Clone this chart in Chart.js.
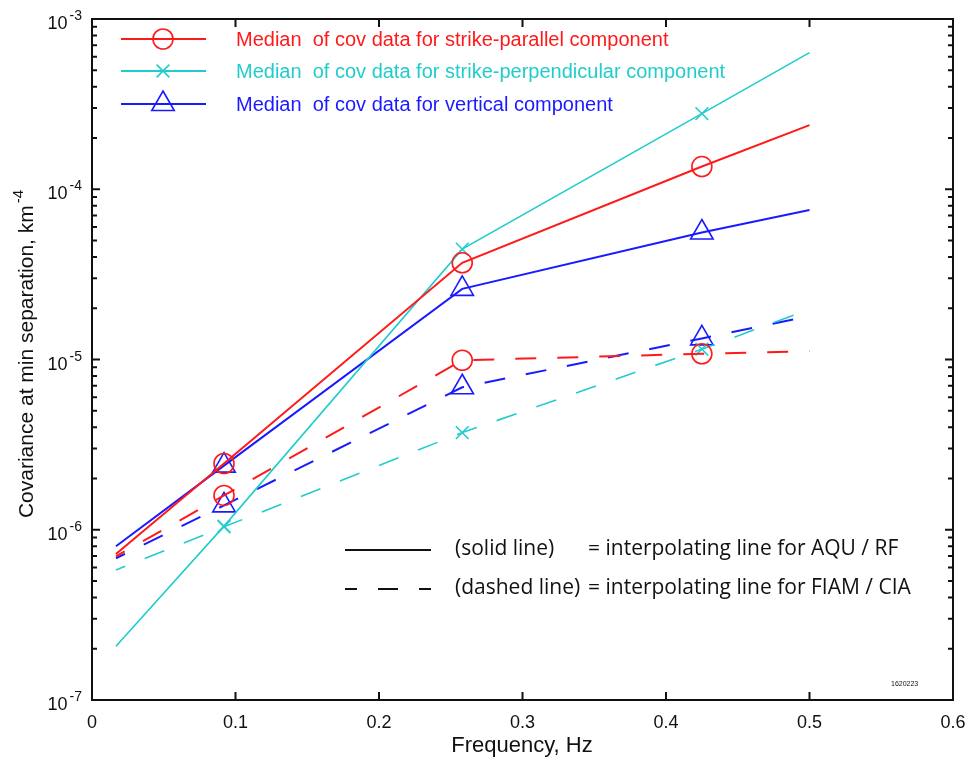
<!DOCTYPE html>
<html>
<head>
<meta charset="utf-8">
<script src="https://cdn.jsdelivr.net/npm/chart.js"></script>
<style>
  html, body { margin: 0; padding: 0; background: #fff; }
</style>
</head>
<body>
<canvas id="myChart" width="968" height="760"></canvas>

<script>
    // Frequencies (Hz): interpolating-line end points and the three measured bands
    const freq = [0.0167, 0.092, 0.258, 0.425, 0.5];

    // Covariance at min separation (km^-4), solid = AQU / RF
    const parallelSolid = [7.2e-7, 2.45e-6, 3.7e-5, 1.36e-4, 2.38e-4];
    const perpSolid     = [2.07e-7, 1.05e-6, 4.45e-5, 2.78e-4, 6.35e-4];
    const verticalSolid = [8.0e-7, 2.38e-6, 2.6e-5, 5.57e-5, 7.56e-5];

    // dashed = FIAM / CIA
    const parallelDashed = [6.98e-7, 1.59e-6, 9.9e-6, 1.08e-5, 1.12e-5];
    const perpDashed     = [5.8e-7, 1.04e-6, 3.72e-6, 1.15e-5, 1.97e-5];
    const verticalDashed = [6.8e-7, 1.39e-6, 6.87e-6, 1.33e-5, 1.80e-5];

    const legendLabels = [
        'Median  of cov data for strike-parallel component',
        'Median  of cov data for strike-perpendicular component',
        'Median  of cov data for vertical component'
    ];
    const xTicks = [0, 0.1, 0.2, 0.3, 0.4, 0.5, 0.6];
    const yDecades = [-7, -6, -5, -4, -3];

    const RED = '#ff1a1a', CYAN = '#22cccc', BLUE = '#1a1aff';
    const FONT = '"Liberation Sans", Arial, sans-serif';

    // markers only on the measured points, not on the line ends
    const markerRadius = r => [0, r, r, r, 0];

    function series(vals, color, style, r, dashed, width) {
        return {
            data: freq.map((f, i) => ({ x: f, y: vals[i] })),
            borderColor: color,
            backgroundColor: 'rgba(0,0,0,0)',
            borderWidth: width,
            borderDash: dashed ? [21, 21] : [],
            borderDashOffset: dashed ? 11 : 0,
            pointStyle: style,
            pointRadius: markerRadius(r),
            pointBorderWidth: 1.6,
            pointBorderColor: color,
            pointBackgroundColor: 'rgba(0,0,0,0)',
            tension: 0
        };
    }

    // "10" with a superscript exponent, the whole label ending at x
    function drawPow(ctx, xRight, y, base, exp, size) {
        ctx.font = size + 'px ' + FONT;
        const wb = ctx.measureText(base).width;
        const es = Math.round(size * 0.75);
        ctx.font = es + 'px ' + FONT;
        const we = ctx.measureText(exp).width;
        const x0 = xRight - wb - we - 2;
        ctx.textAlign = 'left';
        ctx.textBaseline = 'alphabetic';
        ctx.font = size + 'px ' + FONT;
        ctx.fillText(base, x0, y);
        ctx.font = es + 'px ' + FONT;
        ctx.fillText(exp, x0 + wb + 2, y - size * 0.5);
    }

    function drawMarker(ctx, style, x, y, r, color) {
        ctx.strokeStyle = color;
        ctx.fillStyle = 'rgba(0,0,0,0)';
        ctx.lineWidth = 1.6;
        Chart.helpers.drawPoint(ctx, {
            pointStyle: style, rotation: 0, radius: r, borderWidth: 1.6
        }, x, y);
    }

    const framePlugin = {
        id: 'frame',
        afterDraw(chart) {
            const ctx = chart.ctx;
            const a = chart.chartArea;
            const xs = chart.scales.x, ys = chart.scales.y;
            ctx.save();

            // border
            ctx.strokeStyle = '#111';
            ctx.lineWidth = 2;
            ctx.strokeRect(a.left, a.top, a.right - a.left, a.bottom - a.top);

            // x ticks (inside, bottom and top) and labels
            ctx.fillStyle = '#111';
            ctx.font = '18px ' + FONT;
            ctx.textAlign = 'center';
            ctx.textBaseline = 'alphabetic';
            xTicks.forEach(v => {
                const px = xs.getPixelForValue(v);
                ctx.beginPath();
                ctx.moveTo(px, a.bottom); ctx.lineTo(px, a.bottom - 8);
                ctx.moveTo(px, a.top); ctx.lineTo(px, a.top + 8);
                ctx.stroke();
                ctx.fillText(String(v), px, a.bottom + 28);
            });

            // y ticks: decades + minor 2..9, both sides
            yDecades.forEach(e => {
                const py = ys.getPixelForValue(Math.pow(10, e));
                ctx.lineWidth = 2;
                ctx.beginPath();
                ctx.moveTo(a.left, py); ctx.lineTo(a.left + 8, py);
                ctx.moveTo(a.right, py); ctx.lineTo(a.right - 8, py);
                ctx.stroke();
                drawPow(ctx, 82, py + 10, '10', '-' + (-e), 18);
                if (e < -3) {
                    for (let m = 2; m <= 9; m++) {
                        const pm = ys.getPixelForValue(m * Math.pow(10, e));
                        ctx.beginPath();
                        ctx.moveTo(a.left, pm); ctx.lineTo(a.left + 5, pm);
                        ctx.moveTo(a.right, pm); ctx.lineTo(a.right - 5, pm);
                        ctx.stroke();
                    }
                }
            });

            // axis titles
            ctx.fillStyle = '#111';
            ctx.font = '22px ' + FONT;
            ctx.textAlign = 'center';
            ctx.fillText('Frequency, Hz', 522, 752);

            ctx.save();
            ctx.translate(33, 354);
            ctx.rotate(-Math.PI / 2);
            ctx.font = '21px ' + FONT;
            const t = 'Covariance at min separation, km';
            const tw = ctx.measureText(t).width;
            ctx.font = '15px ' + FONT;
            const sw = ctx.measureText('-4').width;
            const sx = -(tw + sw + 2) / 2;
            ctx.textAlign = 'left';
            ctx.font = '21px ' + FONT;
            ctx.fillText(t, sx, 0);
            ctx.font = '15px ' + FONT;
            ctx.fillText('-4', sx + tw + 2, -10);
            ctx.restore();

            // series legend (top left, inside plot)
            const legend = [
                [RED, 'circle', 10],
                [CYAN, 'crossRot', 9],
                [BLUE, 'triangle', 13]
            ];
            const rows = [39, 71, 104];
            legend.forEach((l, i) => {
                const y = rows[i];
                ctx.strokeStyle = l[0];
                ctx.lineWidth = 2;
                ctx.setLineDash([]);
                ctx.beginPath();
                ctx.moveTo(121, y); ctx.lineTo(206, y);
                ctx.stroke();
                drawMarker(ctx, l[1], 163, y, l[2], l[0]);
                ctx.fillStyle = l[0];
                ctx.font = '20px ' + FONT;
                ctx.textAlign = 'left';
                ctx.textBaseline = 'middle';
                ctx.fillText(legendLabels[i], 236, y + 1);
            });

            // line-style key
            ctx.strokeStyle = '#111';
            ctx.lineWidth = 2;
            ctx.beginPath();
            ctx.moveTo(345, 550); ctx.lineTo(431, 550);
            ctx.stroke();
            ctx.setLineDash([12, 21, 20, 21]);
            ctx.beginPath();
            ctx.moveTo(345, 589); ctx.lineTo(431, 589);
            ctx.stroke();
            ctx.setLineDash([]);

            ctx.fillStyle = '#111';
            ctx.font = '21px "Open Sans", sans-serif';
            ctx.textAlign = 'left';
            ctx.textBaseline = 'middle';
            ctx.fillText('(solid line)', 455, 549);
            ctx.fillText('= interpolating line for AQU / RF', 588, 549);
            ctx.fillText('(dashed line)', 455, 588);
            ctx.fillText('= interpolating line for FIAM / CIA', 588, 588);

            ctx.font = '7px ' + FONT;
            ctx.fillText('1620223', 891, 684);

            ctx.restore();
        }
    };

    const ctx = document.getElementById('myChart').getContext('2d');

    const myChart = new Chart(ctx, {
        type: 'line',
        data: {
            datasets: [
                series(parallelSolid, RED, 'circle', 10, false, 2),
                series(perpSolid, CYAN, 'crossRot', 9, false, 1.6),
                series(verticalSolid, BLUE, 'triangle', 13, false, 2),
                series(parallelDashed, RED, 'circle', 10, true, 2),
                series(perpDashed, CYAN, 'crossRot', 9, true, 1.6),
                series(verticalDashed, BLUE, 'triangle', 13, true, 2)
            ]
        },
        options: {
            responsive: false,
            animation: false,
            devicePixelRatio: 1,
            layout: { padding: { left: 92, top: 19, right: 15, bottom: 60 } },
            plugins: { legend: { display: false }, tooltip: { enabled: false } },
            scales: {
                x: { type: 'linear', min: 0, max: 0.6, display: false },
                y: { type: 'logarithmic', min: 1e-7, max: 1e-3, display: false }
            }
        },
        plugins: [framePlugin]
    });
</script>
</body>
</html>
